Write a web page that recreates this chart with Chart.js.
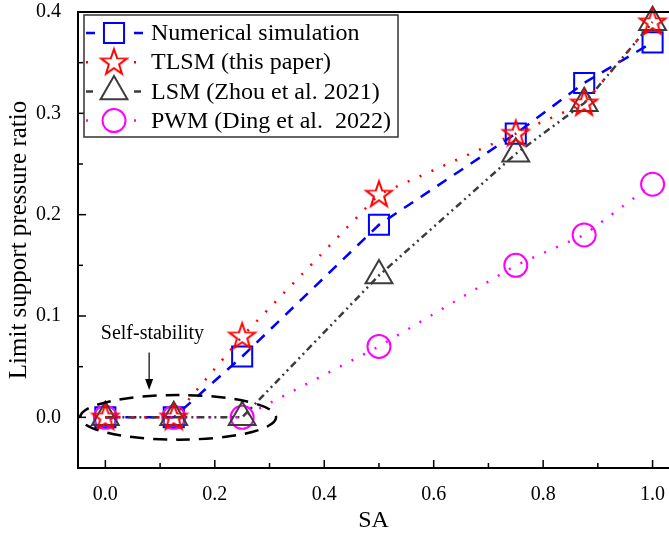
<!DOCTYPE html>
<html>
<head>
<meta charset="utf-8">
<script src="https://cdn.jsdelivr.net/npm/chart.js@4.4.0/dist/chart.umd.min.js"></script>
<style>
  html, body { margin: 0; padding: 0; background: #fff; }
</style>
</head>
<body>
<canvas id="myChart" width="669" height="533"></canvas>
<script>
// data
let saValues = [0, 0.125, 0.25, 0.5, 0.75, 0.875, 1.0];
let numericalValues = [0, 0, 0.06, 0.19, 0.28, 0.33, 0.37];
let tlsmValues = [0, 0, 0.08, 0.22, 0.28, 0.31, 0.39];
let lsmValues = [0, 0, 0, 0.14, 0.26, 0.31, 0.39];
let pwmValues = [0, 0, 0, 0.07, 0.15, 0.18, 0.23];

let seriesNames = ['Numerical simulation', 'TLSM (this paper)', 'LSM (Zhou et al. 2021)', 'PWM (Ding et al.  2022)'];

let xTickValues = [0, 0.1, 0.2, 0.3, 0.4, 0.5, 0.6, 0.7, 0.8, 0.9, 1.0];
let xTickLabels = ['0.0', '', '0.2', '', '0.4', '', '0.6', '', '0.8', '', '1.0'];
let yTickValues = [0, 0.05, 0.1, 0.15, 0.2, 0.25, 0.3, 0.35, 0.4];
let yTickLabels = ['0.0', '', '0.1', '', '0.2', '', '0.3', '', '0.4'];

const serif = '"Liberation Serif", "Times New Roman", serif';
Chart.defaults.font.family = serif;
Chart.defaults.color = '#000';

function toPoints(ys) {
  return saValues.map(function(x, i) { return { x: x, y: ys[i] }; });
}

function makeStar(color) {
  let c = document.createElement('canvas');
  c.width = 32; c.height = 32;
  let g = c.getContext('2d');
  g.strokeStyle = color;
  g.lineWidth = 2;
  g.beginPath();
  for (let i = 0; i < 10; i++) {
    let r = i % 2 == 0 ? 13.5 : 5.4;
    let a = -Math.PI / 2 + i * Math.PI / 5;
    let px = 16 + r * Math.cos(a), py = 16.5 + r * Math.sin(a);
    if (i == 0) g.moveTo(px, py); else g.lineTo(px, py);
  }
  g.closePath();
  g.stroke();
  return c;
}
let starImg = makeStar('#ff0000');

// inward ticks, top frame line, legend box and the self-stability note
let decorPlugin = {
  id: 'decor',
  afterDraw: function(chart) {
    let ctx = chart.ctx;
    let area = chart.chartArea;
    let xs = chart.scales.x, ys = chart.scales.y;
    ctx.save();
    ctx.strokeStyle = '#000';
    ctx.lineWidth = 2;
    ctx.beginPath();
    ctx.moveTo(area.left, area.top);
    ctx.lineTo(area.right, area.top);
    ctx.stroke();

    ctx.lineWidth = 1.5;
    xTickValues.forEach(function(v, i) {
      let px = xs.getPixelForValue(v);
      let len = xTickLabels[i] ? 8 : 5;
      ctx.beginPath();
      ctx.moveTo(px, area.bottom);
      ctx.lineTo(px, area.bottom - len);
      ctx.stroke();
    });
    yTickValues.forEach(function(v, i) {
      let py = ys.getPixelForValue(v);
      let len = yTickLabels[i] ? 8 : 5;
      ctx.beginPath();
      ctx.moveTo(area.left, py);
      ctx.lineTo(area.left + len, py);
      ctx.stroke();
    });

    // dashed ellipse round the zero points
    let cx = xs.getPixelForValue(0.133), cy = ys.getPixelForValue(0);
    let rx = xs.getPixelForValue(0.133 + 0.179) - cx;
    let ry = cy - ys.getPixelForValue(0.022);
    ctx.setLineDash([14, 9]);
    ctx.lineWidth = 2.5;
    ctx.beginPath();
    ctx.ellipse(cx, cy, rx, ry, 0, 0, Math.PI * 2);
    ctx.stroke();
    ctx.setLineDash([]);

    // arrow and label
    let ax = xs.getPixelForValue(0.08);
    let ay1 = ys.getPixelForValue(0.064), ay2 = ys.getPixelForValue(0.027);
    ctx.lineWidth = 1.2;
    ctx.beginPath();
    ctx.moveTo(ax, ay1);
    ctx.lineTo(ax, ay2 - 8);
    ctx.stroke();
    ctx.fillStyle = '#000';
    ctx.beginPath();
    ctx.moveTo(ax - 4, ay2 - 11);
    ctx.lineTo(ax + 4, ay2 - 11);
    ctx.lineTo(ax, ay2);
    ctx.closePath();
    ctx.fill();
    ctx.font = '20px ' + serif;
    ctx.textAlign = 'center';
    ctx.textBaseline = 'alphabetic';
    ctx.fillText('Self-stability', xs.getPixelForValue(0.086), ys.getPixelForValue(0.077));

    // legend
    ctx.fillStyle = '#fff';
    ctx.fillRect(84, 15, 314, 122);
    ctx.strokeStyle = '#333';
    ctx.lineWidth = 1.5;
    ctx.strokeRect(84, 15, 314, 122);
    chart.data.datasets.forEach(function(ds, i) {
      let y = 33 + i * 29.2;
      ctx.strokeStyle = ds.borderColor;
      ctx.lineWidth = ds.borderWidth;
      ctx.setLineDash(ds.borderDash);
      ctx.beginPath();
      ctx.moveTo(86, y); ctx.lineTo(95, y);
      ctx.moveTo(134, y); ctx.lineTo(143, y);
      ctx.stroke();
      ctx.setLineDash([]);
      ctx.strokeStyle = ds.pointBorderColor || ds.borderColor;
      ctx.fillStyle = 'rgba(0,0,0,0)';
      ctx.lineWidth = ds.pointBorderWidth;
      Chart.helpers.drawPoint(ctx, {
        pointStyle: ds.pointStyle,
        radius: ds.pointRadius,
        borderWidth: ds.pointBorderWidth,
        rotation: 0
      }, 114, y);
      ctx.fillStyle = '#000';
      ctx.font = '24px ' + serif;
      ctx.textAlign = 'left';
      ctx.textBaseline = 'middle';
      ctx.fillText(seriesNames[i], 151, y + 1);
    });
    ctx.restore();
  }
};

let ctx = document.getElementById('myChart');
let myChart = new Chart(ctx, {
  type: 'scatter',
  data: {
    datasets: [
      {
        label: seriesNames[0],
        data: toPoints(numericalValues),
        showLine: true,
        borderColor: '#0000ff',
        borderWidth: 2.5,
        borderDash: [11, 9],
        pointStyle: 'rect',
        pointRadius: 14.2,
        pointBorderWidth: 2,
        pointBorderColor: '#0000ff',
        pointBackgroundColor: 'rgba(0,0,0,0)',
        order: 4
      },
      {
        label: seriesNames[1],
        data: toPoints(tlsmValues),
        showLine: true,
        borderColor: '#ff0000',
        borderWidth: 2.5,
        borderDash: [2, 11],
        pointStyle: starImg,
        pointRadius: 14,
        pointBorderWidth: 2,
        order: 1
      },
      {
        label: seriesNames[2],
        data: toPoints(lsmValues),
        showLine: true,
        borderColor: '#3c3c3c',
        borderWidth: 2.5,
        borderDash: [7, 4, 2, 4, 2, 4],
        pointStyle: 'triangle',
        pointRadius: 15.5,
        pointBorderWidth: 2,
        pointBorderColor: '#3c3c3c',
        pointBackgroundColor: 'rgba(0,0,0,0)',
        order: 2
      },
      {
        label: seriesNames[3],
        data: toPoints(pwmValues),
        showLine: true,
        borderColor: '#ff00ff',
        borderWidth: 2.5,
        borderDash: [2, 11],
        pointStyle: 'circle',
        pointRadius: 11.5,
        pointBorderWidth: 2,
        pointBorderColor: '#ff00ff',
        pointBackgroundColor: 'rgba(0,0,0,0)',
        order: 3
      }
    ]
  },
  options: {
    responsive: false,
    animation: false,
    devicePixelRatio: 1,
    clip: false,
    layout: { autoPadding: false, padding: { top: 12, right: 0, left: 0, bottom: 0 } },
    plugins: {
      legend: { display: false },
      tooltip: { enabled: false }
    },
    scales: {
      x: {
        type: 'linear',
        min: -0.05,
        max: 1.03,
        afterBuildTicks: function(scale) {
          scale.ticks = xTickValues.map(function(v) { return { value: v }; });
        },
        afterFit: function(scale) {
          scale.height = 65;
          scale.paddingLeft = 0;
          scale.paddingRight = 0;
        },
        ticks: {
          autoSkip: false,
          maxRotation: 0,
          padding: 9,
          font: { size: 20, lineHeight: 1 },
          callback: function(value, index) { return xTickLabels[index]; }
        },
        grid: { display: false },
        border: { display: true, color: '#000', width: 2 },
        title: { display: true, text: 'SA', font: { size: 24, lineHeight: 1 }, padding: { top: 4, bottom: 0 } }
      },
      y: {
        type: 'linear',
        min: -0.05,
        max: 0.4,
        afterBuildTicks: function(scale) {
          scale.ticks = yTickValues.map(function(v) { return { value: v }; });
        },
        afterFit: function(scale) {
          scale.width = 78;
          scale.paddingTop = 0;
          scale.paddingBottom = 0;
        },
        ticks: {
          autoSkip: false,
          padding: 9,
          font: { size: 20, lineHeight: 1 },
          callback: function(value, index) { return yTickLabels[index]; }
        },
        grid: { display: false },
        border: { display: true, color: '#000', width: 2 },
        title: { display: true, text: 'Limit support pressure ratio', font: { size: 25 }, padding: { bottom: 4 } }
      }
    }
  },
  plugins: [decorPlugin]
});
</script>
</body>
</html>
